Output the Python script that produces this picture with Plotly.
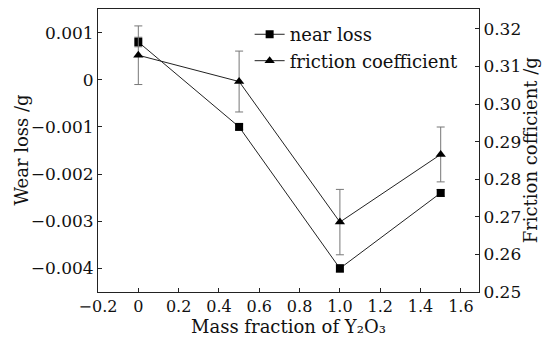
import plotly.graph_objects as go

mass_fraction = [0, 0.5, 1.0, 1.5]
wear_loss = [0.0008, -0.001, -0.004, -0.0024]
wear_err = [0.0001, 0.00006, 0.00008, 0.00007]
friction = [0.313, 0.306, 0.2686, 0.2866]
friction_err = [0.0078, 0.0081, 0.0087, 0.0073]

x_ticks = [-0.2, 0, 0.2, 0.4, 0.6, 0.8, 1.0, 1.2, 1.4, 1.6]
x_tick_text = ["\u22120.2", "0", "0.2", "0.4", "0.6", "0.8", "1.0", "1.2", "1.4", "1.6"]
y1_ticks = [0.001, 0, -0.001, -0.002, -0.003, -0.004]
y1_tick_text = ["0.001", "0", "\u22120.001", "\u22120.002", "\u22120.003", "\u22120.004"]
y2_ticks = [0.25, 0.26, 0.27, 0.28, 0.29, 0.30, 0.31, 0.32]
y2_tick_text = ["0.25", "0.26", "0.27", "0.28", "0.29", "0.30", "0.31", "0.32"]

x_title = "Mass fraction of Y\u2082O\u2083"
y1_title = "Wear loss /g"
y2_title = "Friction cofficient /g"

FONT = "DejaVu Serif"

fig = go.Figure()
fig.add_trace(go.Scatter(
    x=mass_fraction, y=wear_loss, name="near loss", mode="lines+markers",
    line=dict(color="#222", width=1),
    marker=dict(symbol="square", size=8, color="black"),
    error_y=dict(type="data", array=wear_err, color="#555", thickness=1, width=4),
))
fig.add_trace(go.Scatter(
    x=mass_fraction, y=friction, name="friction coefficient", mode="lines+markers",
    yaxis="y2",
    line=dict(color="#222", width=1),
    marker=dict(symbol="triangle-up", size=9, color="black"),
    error_y=dict(type="data", array=friction_err, color="#777", thickness=1, width=4),
))

axis_common = dict(
    showgrid=False, zeroline=False, showline=True, linecolor="#222", linewidth=1,
    ticks="inside", ticklen=4, tickcolor="#222", automargin=False,
)
y_tickfont = dict(family=FONT, size=17, color="#111")
x_tickfont = dict(family=FONT, size=16, color="#111")

title_font = dict(family=FONT, size=18, color="#111")

fig.update_layout(
    width=543, height=339,
    margin=dict(l=98, r=64, t=9, b=47),
    paper_bgcolor="white", plot_bgcolor="white",
    font=dict(family=FONT, size=17, color="#111"),
    showlegend=True,
    legend=dict(x=0.398, y=0.975, xanchor="left", yanchor="top",
                bgcolor="rgba(0,0,0,0)", font=dict(family=FONT, size=18),
                tracegroupgap=0, itemwidth=30),
    xaxis=dict(range=[-0.2, 1.69], tickvals=x_ticks, ticktext=x_tick_text,
               mirror=True, tickfont=x_tickfont, **axis_common),
    yaxis=dict(range=[-0.0045, 0.0015], tickvals=y1_ticks, ticktext=y1_tick_text,
               tickfont=y_tickfont, **axis_common),
    yaxis2=dict(range=[0.25, 0.3253], tickvals=y2_ticks, ticktext=y2_tick_text,
                overlaying="y", side="right", tickfont=y_tickfont, **axis_common),
    annotations=[
        dict(text=x_title, xref="paper", yref="paper", x=0.5, y=-47 / 283,
             xanchor="center", yanchor="bottom", yshift=0, showarrow=False, font=title_font),
        dict(text=y1_title, xref="paper", yref="paper", x=-0.202, y=0.5,
             xanchor="center", yanchor="middle", textangle=-90, showarrow=False, font=title_font),
        dict(text=y2_title, xref="paper", yref="paper", x=1.136, y=0.5,
             xanchor="center", yanchor="middle", textangle=-90, showarrow=False, font=title_font),
    ],
)

fig.write_html("out.html")
